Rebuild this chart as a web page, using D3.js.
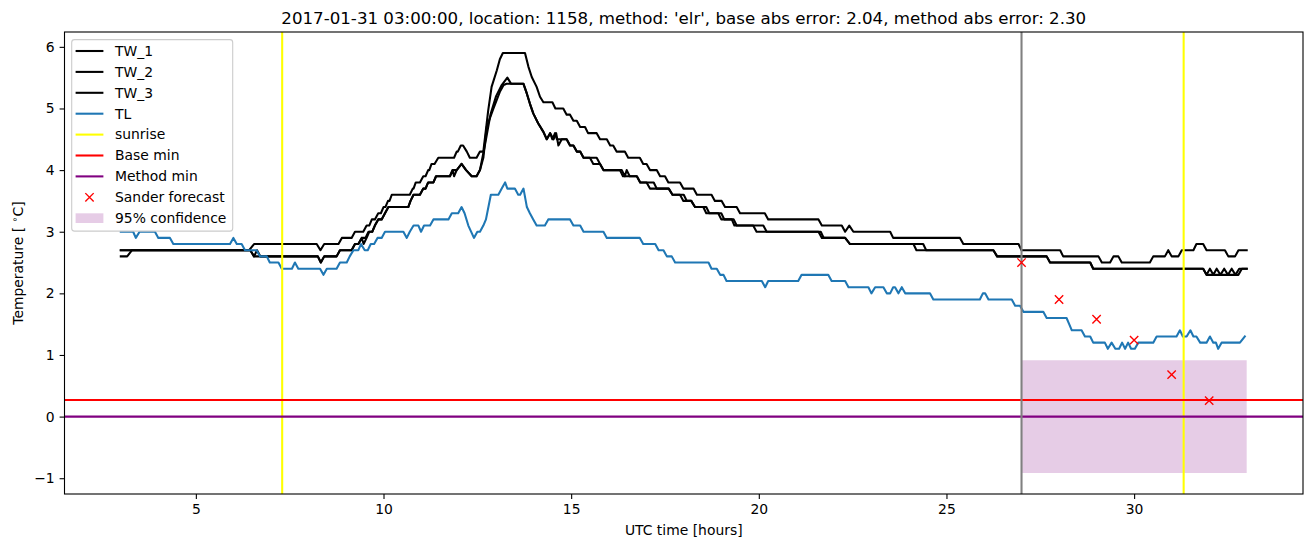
<!DOCTYPE html>
<html>
<head>
<meta charset="utf-8">
<script src="https://cdn.jsdelivr.net/npm/d3@7"></script>
<style>
  html, body { margin: 0; padding: 0; background: #fff; }
  svg { display: block; font-family: "DejaVu Sans", sans-serif; }
</style>
</head>
<body>
<svg id="chart" width="1313" height="547"></svg>
<script>
// ---------------- data ----------------
const titleText = "2017-01-31 03:00:00, location: 1158, method: 'elr', base abs error: 2.04, method abs error: 2.30";
const xTicks = [5, 10, 15, 20, 25, 30];
const yTicks = [-1, 0, 1, 2, 3, 4, 5, 6];

// [hour, temperature] vertices
const tw1 = [[3.0,2.7],[6.42,2.7],[6.55,2.8],[8.22,2.8],[8.32,2.7],[8.42,2.8],[8.8,2.8],[8.89,2.9],[9.15,2.9],[9.24,3.0],[9.46,3.0],[9.55,3.1],[9.62,3.1],[9.69,3.2],[9.77,3.2],[9.86,3.3],[9.93,3.3],[10.0,3.4],[10.05,3.4],[10.12,3.5],[10.16,3.5],[10.22,3.6],[10.7,3.6],[10.78,3.7],[10.8,3.7],[10.86,3.8],[10.97,3.8],[11.06,3.9],[11.12,3.9],[11.19,4.0],[11.22,4.0],[11.28,4.1],[11.36,4.1],[11.46,4.2],[11.88,4.2],[11.95,4.3],[11.98,4.3],[12.06,4.4],[12.12,4.4],[12.22,4.3],[12.3,4.2],[12.48,4.2],[12.57,4.3],[12.66,4.3],[12.79,4.97],[12.88,5.35],[13.02,5.62],[13.1,5.8],[13.18,5.9],[13.77,5.9],[13.86,5.68],[13.95,5.51],[14.08,5.35],[14.17,5.19],[14.26,5.1],[14.5,5.1],[14.58,5.0],[14.79,5.0],[14.88,4.9],[14.97,4.9],[15.06,4.8],[15.15,4.8],[15.24,4.7],[15.37,4.7],[15.45,4.6],[15.68,4.6],[15.77,4.5],[15.95,4.5],[16.04,4.4],[16.12,4.4],[16.21,4.3],[16.43,4.3],[16.52,4.2],[16.83,4.2],[16.92,4.1],[17.01,4.1],[17.1,4.0],[17.28,4.0],[17.37,3.9],[17.5,3.9],[17.59,3.8],[17.9,3.8],[17.99,3.7],[18.26,3.7],[18.35,3.6],[18.74,3.6],[18.83,3.5],[19.01,3.5],[19.1,3.4],[19.41,3.4],[19.5,3.3],[20.16,3.3],[20.25,3.2],[21.59,3.2],[21.68,3.1],[22.21,3.1],[22.3,3.0],[22.41,3.1],[22.52,3.0],[23.5,3.0],[23.58,2.9],[25.36,2.9],[25.45,2.8],[26.92,2.8],[27.0,2.7],[28.03,2.7],[28.11,2.6],[29.05,2.6],[29.14,2.5],[29.36,2.5],[29.45,2.6],[29.58,2.6],[29.67,2.5],[30.42,2.5],[30.51,2.6],[30.82,2.6],[30.91,2.7],[31.0,2.6],[31.18,2.6],[31.27,2.7],[31.58,2.7],[31.66,2.8],[31.84,2.8],[31.93,2.7],[32.42,2.7],[32.51,2.6],[32.69,2.6],[32.78,2.7],[33.0,2.7]];

const tw2 = [[3.0,2.7],[6.45,2.7],[6.55,2.6],[8.25,2.6],[8.33,2.5],[8.42,2.6],[8.75,2.6],[8.84,2.7],[9.15,2.7],[9.24,2.8],[9.33,2.8],[9.42,2.9],[9.52,2.9],[9.6,3.0],[9.7,3.0],[9.77,3.1],[9.86,3.2],[9.95,3.2],[10.04,3.3],[10.13,3.4],[10.66,3.4],[10.72,3.5],[10.8,3.6],[10.97,3.6],[11.06,3.7],[11.12,3.7],[11.19,3.8],[11.33,3.8],[11.4,3.9],[11.77,3.9],[11.84,4.0],[11.95,4.0],[12.08,4.1],[12.2,4.0],[12.35,3.9],[12.48,3.9],[12.57,4.0],[12.66,4.2],[12.75,4.7],[12.93,5.0],[13.1,5.27],[13.2,5.38],[13.28,5.4],[13.73,5.4],[13.82,5.24],[13.9,5.08],[13.99,4.92],[14.12,4.76],[14.26,4.62],[14.35,4.5],[14.44,4.6],[14.5,4.5],[14.57,4.6],[14.62,4.5],[14.88,4.5],[14.97,4.4],[15.06,4.4],[15.15,4.3],[15.24,4.3],[15.33,4.2],[15.5,4.2],[15.59,4.1],[15.77,4.1],[15.86,4.0],[16.3,4.0],[16.38,3.9],[16.75,3.9],[16.84,3.8],[17.01,3.8],[17.1,3.7],[17.6,3.7],[17.7,3.6],[17.9,3.6],[17.99,3.5],[18.2,3.5],[18.3,3.4],[18.52,3.4],[18.6,3.3],[18.92,3.3],[19.0,3.2],[19.28,3.2],[19.35,3.1],[19.85,3.1],[19.94,3.0],[21.59,3.0],[21.68,2.9],[22.3,2.9],[22.43,2.8],[24.12,2.8],[24.2,2.7],[26.25,2.7],[26.35,2.6],[27.67,2.6],[27.76,2.5],[28.83,2.5],[28.91,2.4],[31.84,2.4],[31.93,2.3],[32.02,2.4],[32.11,2.3],[32.2,2.4],[32.3,2.3],[32.4,2.4],[32.5,2.3],[32.6,2.4],[32.7,2.3],[32.8,2.4],[33.0,2.4]];

const tw3 = [[3.0,2.6],[3.17,2.6],[3.3,2.7],[6.45,2.7],[6.55,2.6],[6.63,2.7],[6.72,2.6],[8.25,2.6],[8.33,2.5],[8.42,2.6],[8.75,2.6],[8.84,2.7],[9.15,2.7],[9.24,2.8],[9.33,2.8],[9.42,2.9],[9.47,2.8],[9.55,2.9],[9.62,3.0],[9.7,3.0],[9.77,3.1],[9.86,3.2],[9.95,3.2],[10.04,3.3],[10.13,3.4],[10.66,3.4],[10.72,3.5],[10.8,3.6],[10.97,3.6],[11.06,3.7],[11.12,3.7],[11.19,3.8],[11.33,3.8],[11.4,3.9],[11.77,3.9],[11.84,4.0],[11.88,3.9],[11.95,4.0],[12.08,4.1],[12.2,4.0],[12.35,3.9],[12.48,3.9],[12.57,4.0],[12.7,4.4],[12.85,4.9],[13.0,5.2],[13.15,5.38],[13.3,5.5],[13.4,5.4],[13.73,5.4],[13.82,5.24],[13.9,5.08],[13.99,4.92],[14.12,4.76],[14.26,4.62],[14.35,4.5],[14.44,4.6],[14.53,4.5],[14.6,4.6],[14.66,4.4],[14.75,4.5],[14.88,4.5],[14.97,4.4],[15.06,4.4],[15.15,4.3],[15.24,4.3],[15.33,4.2],[15.68,4.2],[15.77,4.1],[15.86,4.0],[16.35,4.0],[16.43,3.9],[16.48,4.0],[16.56,3.9],[16.75,3.9],[16.84,3.8],[17.2,3.8],[17.28,3.7],[17.6,3.7],[17.7,3.6],[18.0,3.6],[18.08,3.5],[18.2,3.5],[18.3,3.4],[18.6,3.4],[18.68,3.3],[19.0,3.3],[19.08,3.2],[19.33,3.2],[19.41,3.1],[20.12,3.1],[20.21,3.0],[21.65,3.0],[21.73,2.9],[22.3,2.9],[22.43,2.8],[24.38,2.8],[24.46,2.7],[26.25,2.7],[26.35,2.6],[27.67,2.6],[27.76,2.5],[28.83,2.5],[28.91,2.4],[31.84,2.4],[31.93,2.3],[32.78,2.3],[32.87,2.4],[33.0,2.4]];

const tl = [[3.0,3.0],[3.33,3.0],[3.4,2.9],[3.5,3.0],[3.91,3.0],[4.0,2.9],[4.31,2.9],[4.4,2.8],[5.91,2.8],[6.0,2.9],[6.09,2.8],[6.22,2.8],[6.31,2.7],[6.62,2.7],[6.71,2.6],[6.89,2.6],[6.97,2.5],[7.2,2.5],[7.29,2.4],[7.56,2.4],[7.64,2.5],[7.73,2.4],[8.31,2.4],[8.4,2.3],[8.49,2.4],[8.75,2.4],[8.84,2.5],[9.02,2.5],[9.1,2.6],[9.2,2.7],[9.33,2.7],[9.4,2.8],[9.5,2.7],[9.58,2.7],[9.66,2.8],[9.75,2.8],[9.84,2.9],[9.95,2.9],[10.04,3.0],[10.53,3.0],[10.62,2.9],[10.7,3.0],[10.8,3.1],[10.93,3.1],[11.0,3.0],[11.08,3.1],[11.24,3.1],[11.33,3.2],[11.73,3.2],[11.82,3.3],[11.99,3.3],[12.08,3.4],[12.16,3.3],[12.26,3.1],[12.41,2.9],[12.5,3.0],[12.57,3.0],[12.66,3.1],[12.73,3.2],[12.86,3.6],[13.06,3.6],[13.15,3.7],[13.24,3.8],[13.3,3.7],[13.5,3.7],[13.59,3.6],[13.64,3.6],[13.73,3.7],[13.82,3.4],[13.9,3.3],[13.99,3.2],[14.08,3.1],[14.3,3.1],[14.39,3.2],[14.97,3.2],[15.06,3.1],[15.24,3.1],[15.33,3.0],[15.86,3.0],[15.95,2.9],[16.83,2.9],[16.92,2.8],[17.24,2.8],[17.33,2.7],[17.46,2.7],[17.55,2.6],[17.68,2.6],[17.77,2.5],[18.66,2.5],[18.74,2.4],[18.88,2.4],[18.97,2.3],[19.06,2.3],[19.14,2.2],[20.08,2.2],[20.17,2.1],[20.25,2.2],[21.05,2.2],[21.14,2.3],[21.85,2.3],[21.94,2.2],[22.3,2.2],[22.39,2.1],[22.92,2.1],[23.0,2.0],[23.1,2.1],[23.32,2.1],[23.41,2.0],[23.5,2.0],[23.58,2.1],[23.63,2.1],[23.72,2.0],[23.81,2.1],[23.9,2.0],[24.56,2.0],[24.65,1.9],[25.89,1.9],[25.97,2.0],[26.03,2.0],[26.12,1.9],[26.74,1.9],[26.83,1.8],[26.96,1.8],[27.05,1.7],[27.58,1.7],[27.67,1.6],[28.2,1.6],[28.27,1.5],[28.34,1.4],[28.6,1.4],[28.69,1.3],[28.83,1.3],[28.91,1.2],[29.22,1.2],[29.3,1.1],[29.4,1.2],[29.5,1.1],[29.6,1.1],[29.68,1.2],[29.76,1.1],[29.84,1.2],[29.92,1.1],[30.02,1.1],[30.11,1.2],[30.51,1.2],[30.6,1.3],[31.13,1.3],[31.22,1.4],[31.3,1.3],[31.4,1.3],[31.5,1.4],[31.58,1.3],[31.66,1.3],[31.76,1.2],[31.93,1.2],[32.02,1.3],[32.11,1.2],[32.18,1.2],[32.24,1.1],[32.33,1.2],[32.82,1.2],[32.95,1.3]];

const sunriseHours = [7.3, 31.32];
const baseMin = 0.27;
const methodMin = 0.0;
const forecastStart = 27;
const forecastHours = [27, 28, 29, 30, 31, 32];
const forecastValues = [2.5, 1.9, 1.58, 1.24, 0.68, 0.26];
const confidenceRange = [27, 33];
const confidenceLow = -0.915;
const confidenceHigh = 0.915;
const xDomain = [1.5, 34.5];
const yDomain = [-1.256, 6.241];

const legendLabels = ["TW_1", "TW_2", "TW_3", "TL", "sunrise", "Base min", "Method min", "Sander forecast", "95% confidence"];

// ---------------- drawing ----------------
const svg = d3.select("#chart");
const L = 64.5, R = 1303, T = 32, B = 494;
const x = d3.scaleLinear().domain(xDomain).range([L, R]);
const y = d3.scaleLinear().domain(yDomain).range([B, T]);
const lw = 2.08;

svg.append("defs").append("clipPath").attr("id", "clip")
  .append("rect").attr("x", L).attr("y", T).attr("width", R - L).attr("height", B - T);

const plot = svg.append("g").attr("clip-path", "url(#clip)");

// confidence band
const area = d3.area().x(d => x(d)).y0(y(confidenceLow)).y1(y(confidenceHigh));
plot.append("path").datum(confidenceRange).attr("d", area)
  .attr("fill", "#800080").attr("fill-opacity", 0.2);

const line = d3.line().x(d => x(d[0])).y(d => y(d[1]));
const series = [
  {data: tw1, color: "#000000"},
  {data: tw2, color: "#000000"},
  {data: tw3, color: "#000000"},
  {data: tl, color: "#1f77b4"}
];
series.forEach(s => {
  plot.append("path").datum(s.data).attr("d", line)
    .attr("fill", "none").attr("stroke", s.color).attr("stroke-width", lw)
    .attr("stroke-linejoin", "round").attr("stroke-linecap", "square");
});

// sunrise
sunriseHours.forEach(h => {
  plot.append("line").attr("x1", x(h)).attr("x2", x(h)).attr("y1", T).attr("y2", B)
    .attr("stroke", "#ffff00").attr("stroke-width", lw);
});
// base min / method min
plot.append("line").attr("x1", L).attr("x2", R).attr("y1", y(baseMin)).attr("y2", y(baseMin))
  .attr("stroke", "#ff0000").attr("stroke-width", lw);
plot.append("line").attr("x1", L).attr("x2", R).attr("y1", y(methodMin)).attr("y2", y(methodMin))
  .attr("stroke", "#800080").attr("stroke-width", lw);
// forecast start
plot.append("line").attr("x1", x(forecastStart)).attr("x2", x(forecastStart)).attr("y1", T).attr("y2", B)
  .attr("stroke", "#808080").attr("stroke-width", lw);

// forecast markers
const ms = 4.17;
function xMarker(g, cx, cy) {
  g.append("path").attr("d", `M${cx-ms},${cy-ms}L${cx+ms},${cy+ms}M${cx-ms},${cy+ms}L${cx+ms},${cy-ms}`)
    .attr("stroke", "#ff0000").attr("stroke-width", 1.39).attr("fill", "none");
}
forecastHours.forEach((h, i) => xMarker(plot, x(h), y(forecastValues[i])));

// axes
const xAxis = d3.axisBottom(x).tickValues(xTicks).tickSize(4.9).tickPadding(4.9).tickFormat(d3.format("d"));
const yAxis = d3.axisLeft(y).tickValues(yTicks).tickSize(4.9).tickPadding(4.9).tickFormat(d => d < 0 ? "\u2212" + Math.abs(d) : d);
const gx = svg.append("g").attr("transform", `translate(0,${B})`).call(xAxis);
const gy = svg.append("g").attr("transform", `translate(${L},0)`).call(yAxis);
[gx, gy].forEach(g => {
  g.select(".domain").remove();
  g.selectAll(".tick line").attr("stroke", "#000").attr("stroke-width", 1.1);
  g.selectAll(".tick text").attr("font-family", "DejaVu Sans").attr("font-size", "13.9px").attr("fill", "#000");
});

// frame
svg.append("rect").attr("x", L).attr("y", T).attr("width", R - L).attr("height", B - T)
  .attr("fill", "none").attr("stroke", "#000").attr("stroke-width", 1.1);

// title & labels
svg.append("text").attr("x", (L + R) / 2).attr("y", 23.5).attr("text-anchor", "middle")
  .attr("font-size", "16.67px").attr("fill", "#000").text(titleText);
svg.append("text").attr("x", (L + R) / 2).attr("y", 534.5).attr("text-anchor", "middle")
  .attr("font-size", "13.9px").attr("fill", "#000").text("UTC time [hours]");
const yl = svg.append("text").attr("transform", `translate(22.5,${(T + B) / 2}) rotate(-90)`)
  .attr("text-anchor", "middle").attr("font-size", "13.9px").attr("fill", "#000");
yl.append("tspan").text("Temperature [ ");
yl.append("tspan").attr("font-size", "9.7px").attr("dy", "-5").text("\u2218");
yl.append("tspan").attr("dy", "5").text("C]");

// legend
const lg = svg.append("g");
const lgX = 71.7, lgY = 39.6, lgW = 161, lgH = 191.5;
lg.append("rect").attr("x", lgX).attr("y", lgY).attr("width", lgW).attr("height", lgH)
  .attr("rx", 2.8).attr("fill", "#fff").attr("fill-opacity", 0.8)
  .attr("stroke", "#cccccc").attr("stroke-width", 1.1);
const rowY = i => 51 + i * 20.9;
const hx0 = 75.6, hx1 = 103.4, tx = 115;
const legendColors = ["#000000", "#000000", "#000000", "#1f77b4", "#ffff00", "#ff0000", "#800080"];
legendLabels.forEach((lab, i) => {
  const cy = rowY(i);
  if (i < 7) {
    lg.append("line").attr("x1", hx0).attr("x2", hx1).attr("y1", cy).attr("y2", cy)
      .attr("stroke", legendColors[i]).attr("stroke-width", lw);
  } else if (i === 7) {
    xMarker(lg, (hx0 + hx1) / 2, cy);
  } else {
    lg.append("rect").attr("x", hx0).attr("y", cy - 4.9).attr("width", hx1 - hx0).attr("height", 9.7)
      .attr("fill", "#800080").attr("fill-opacity", 0.2);
  }
  lg.append("text").attr("x", tx).attr("y", cy).attr("dy", "0.35em")
    .attr("font-size", "13.9px").attr("fill", "#000").text(lab);
});
</script>
</body>
</html>
